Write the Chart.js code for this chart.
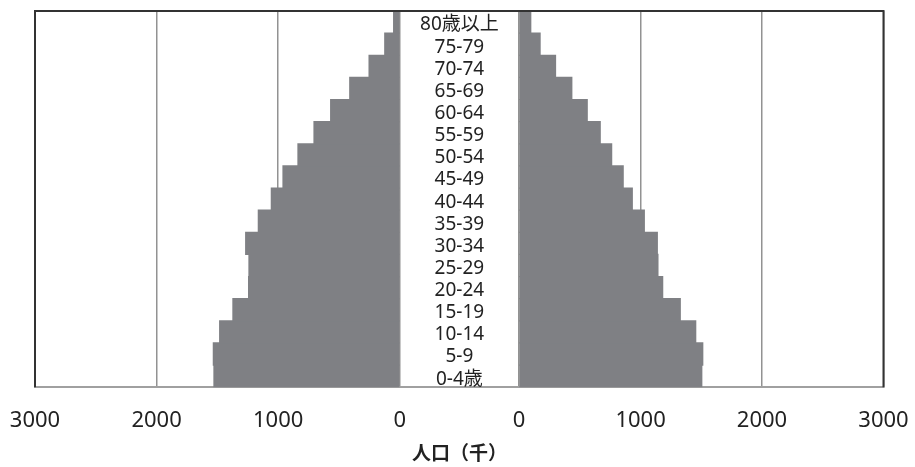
<!DOCTYPE html>
<html>
<head>
<meta charset="utf-8">
<script src="https://cdn.jsdelivr.net/npm/chart.js@4"></script>
<style>
  body { margin: 0; background: #fff; }
  canvas { display: block; }
</style>
</head>
<body>
<canvas id="pyramid" width="915" height="467"></canvas>
<script>
// age groups, youngest first (axis is reversed so 80+ sits on top)
const ageGroups = ['0-4歳', '5-9', '10-14', '15-19', '20-24', '25-29', '30-34', '35-39',
    '40-44', '45-49', '50-54', '55-59', '60-64', '65-69', '70-74', '75-79', '80歳以上'];
// population in thousands
const leftSide = [1528, 1533, 1481, 1372, 1243, 1240, 1267, 1163, 1056, 960, 837, 705, 568, 411, 252, 123, 50];
const rightSide = [1504, 1512, 1454, 1327, 1182, 1143, 1138, 1031, 932, 857, 762, 668, 561, 434, 300, 173, 96];
const tickValues = [0, 1000, 2000, 3000];
const axisTitle = '人口（千）';

const barColor = '#7f8084';
const gridColor = '#929292';
const textColor = '#222222';
const tickFont = { family: '"Noto Sans", "Noto Sans CJK JP"', size: 22 };

function setTicks(scale) {
    scale.ticks = tickValues.map(v => ({ value: v }));
}

// age labels in the white middle column
const centerLabels = {
    id: 'centerLabels',
    afterDatasetsDraw(chart) {
        const { ctx } = chart;
        const mid = chart.scales.xM;
        const y = chart.scales.y;
        const cx = (mid.left + mid.right) / 2;
        ctx.save();
        ctx.font = '19px "Noto Sans", "Noto Sans CJK JP"';
        ctx.fillStyle = textColor;
        ctx.textAlign = 'center';
        ctx.textBaseline = 'middle';
        chart.data.labels.forEach((lab, i) => {
            ctx.fillText(lab, cx, y.getPixelForValue(i) + 3);
        });
        ctx.restore();
    }
};

// outer frame (top, left, right)
const frame = {
    id: 'frame',
    afterDraw(chart) {
        const { ctx, chartArea: a } = chart;
        ctx.save();
        ctx.strokeStyle = '#333333';
        ctx.lineWidth = 2;
        ctx.beginPath();
        ctx.moveTo(a.left, a.bottom);
        ctx.lineTo(a.left, a.top);
        ctx.lineTo(a.right, a.top);
        ctx.lineTo(a.right, a.bottom);
        ctx.stroke();
        ctx.restore();
    }
};

const sideAxis = (reverse, weight) => ({
    type: 'linear',
    axis: 'x',
    position: 'bottom',
    stack: 'pop',
    stackWeight: weight,
    reverse: reverse,
    min: 0,
    max: 3000,
    afterBuildTicks: setTicks,
    // invisible tick marks push the labels down without adding side padding
    grid: { color: gridColor, lineWidth: 1.5, drawTicks: true, tickLength: 20, tickColor: 'rgba(0,0,0,0)' },
    border: { color: '#a0a0a0', width: 2 },
    ticks: {
        color: textColor,
        font: tickFont,
        padding: 0,
        maxRotation: 0,
        callback: v => String(v)
    },
    // blank title so every box in the stack has the same height
    title: { display: true, text: ' ', font: { size: 10 }, padding: { top: 18.4, bottom: 0 } }
});

new Chart(document.getElementById('pyramid'), {
    type: 'bar',
    data: {
        labels: ageGroups,
        datasets: [{
            data: leftSide,
            xAxisID: 'xL',
            yAxisID: 'y',
            backgroundColor: barColor,
            borderWidth: 0,
            inflateAmount: 0.6,
            grouped: false,
            barPercentage: 1,
            categoryPercentage: 1
        }, {
            data: rightSide,
            xAxisID: 'xR',
            yAxisID: 'y',
            backgroundColor: barColor,
            borderWidth: 0,
            inflateAmount: 0.6,
            grouped: false,
            barPercentage: 1,
            categoryPercentage: 1
        }]
    },
    options: {
        indexAxis: 'y',
        responsive: false,
        animation: false,
        layout: { padding: { left: 35, right: 31.5, top: 11, bottom: 3 } },
        plugins: {
            legend: { display: false },
            tooltip: { enabled: false }
        },
        scales: {
            xL: Object.assign(sideAxis(true, 364.5), { weight: 1 }),
            xM: {
                type: 'linear',
                axis: 'x',
                position: 'bottom',
                stack: 'pop',
                stackWeight: 119.3,
                weight: 2,
                min: 0,
                max: 1,
                grid: { display: false, drawTicks: false },
                border: { color: '#a0a0a0', width: 2 },
                ticks: { display: false },
                title: {
                    display: true,
                    text: axisTitle,
                    color: textColor,
                    font: { family: '"Noto Sans CJK JP"', size: 19, weight: 'bold' },
                    padding: { top: 54, bottom: 0 }
                }
            },
            xR: Object.assign(sideAxis(false, 364.2), { weight: 3 }),
            y: {
                type: 'category',
                reverse: true,
                display: false
            }
        }
    },
    plugins: [centerLabels, frame]
});
</script>
</body>
</html>
